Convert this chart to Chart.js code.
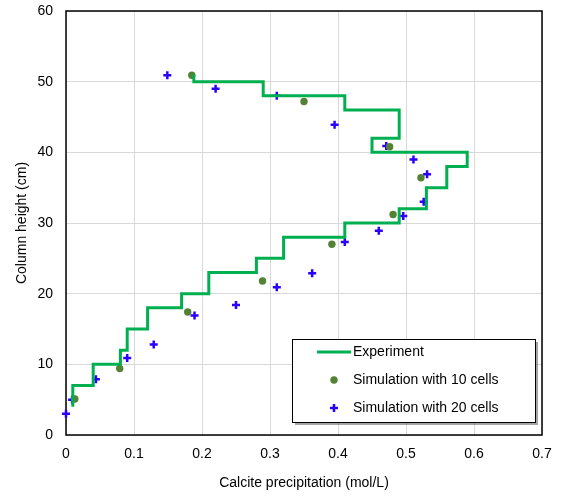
<!DOCTYPE html>
<html>
<head>
<meta charset="utf-8">
<script src="https://cdn.jsdelivr.net/npm/chart.js@4"></script>
<style>
  html, body { margin: 0; padding: 0; background: #fff; }
</style>
</head>
<body>
<canvas id="chart" width="566" height="498"></canvas>
<script>
// experiment (step profile, top to bottom)
const expHeight = [51, 50, 48, 46, 42, 40, 38, 35, 32, 30, 28, 25, 23, 20, 18, 15, 12, 10, 7, 4];
const expValue = [0.188, 0.29, 0.41, 0.49, 0.45, 0.59, 0.56, 0.53, 0.49, 0.41, 0.32, 0.28, 0.21, 0.17, 0.12, 0.09, 0.08, 0.04, 0.01, 0.01];

// simulation with 10 cells
const sim10Height = [50.9, 47.2, 40.8, 36.4, 31.2, 27.0, 21.8, 17.4, 9.4, 5.1];
const sim10Value = [0.185, 0.35, 0.476, 0.522, 0.481, 0.391, 0.289, 0.179, 0.079, 0.013];

// simulation with 20 cells
const sim20Height = [50.9, 49.0, 48.0, 43.9, 40.9, 39.0, 36.9, 33.0, 31.0, 28.9, 27.3, 22.9, 20.9, 18.4, 16.9, 12.8, 10.9, 7.9, 5.0, 3.0];
const sim20Value = [0.149, 0.22, 0.31, 0.395, 0.471, 0.511, 0.531, 0.526, 0.496, 0.46, 0.41, 0.362, 0.31, 0.25, 0.189, 0.129, 0.09, 0.044, 0.009, 0.0];

const seriesNames = ["Experiment", "Simulation with 10 cells", "Simulation with 20 cells"];
const xTicks = [0, 0.1, 0.2, 0.3, 0.4, 0.5, 0.6, 0.7];
const yTicks = [0, 10, 20, 30, 40, 50, 60];

const FONT = "'Liberation Sans', Arial, sans-serif";
const GREEN = "#00B050";
const DOT = "#548235";
const BLUE = "#2B00FF";

function toPoints(xs, ys) {
  return xs.map((v, i) => ({ x: v, y: ys[i] }));
}

// black frame round the plot area
const plotFrame = {
  id: "plotFrame",
  beforeDatasetsDraw(chart) {
    const { ctx, chartArea: a } = chart;
    ctx.save();
    ctx.strokeStyle = "#000";
    ctx.lineWidth = 1.5;
    ctx.strokeRect(a.left, a.top, a.right - a.left, a.bottom - a.top);
    ctx.restore();
  },
};

// legend box inside the plot, lower right
const legendBox = {
  id: "legendBox",
  afterDraw(chart) {
    const ctx = chart.ctx;
    const x = 292, y = 339, w = 243, h = 83;
    ctx.save();
    ctx.fillStyle = "rgba(0,0,0,0.35)";
    ctx.fillRect(x + 3, y + 3, w, h);
    ctx.fillStyle = "#fff";
    ctx.fillRect(x, y, w, h);
    ctx.strokeStyle = "#000";
    ctx.lineWidth = 1;
    ctx.strokeRect(x + 0.5, y + 0.5, w, h);

    const ds = chart.data.datasets;
    const rows = [352, 380, 408];
    const mx = 334;
    ctx.font = "14px " + FONT;
    ctx.textBaseline = "middle";
    ctx.fillStyle = "#000";
    rows.forEach((ry, i) => ctx.fillText(ds[i].label, 353, ry));

    ctx.strokeStyle = ds[0].borderColor;
    ctx.lineWidth = ds[0].borderWidth;
    ctx.beginPath();
    ctx.moveTo(317, rows[0]);
    ctx.lineTo(351, rows[0]);
    ctx.stroke();

    ctx.fillStyle = ds[1].backgroundColor;
    ctx.beginPath();
    ctx.arc(mx, rows[1], 3.7, 0, Math.PI * 2);
    ctx.fill();

    ctx.strokeStyle = ds[2].borderColor;
    ctx.lineWidth = ds[2].borderWidth;
    ctx.beginPath();
    ctx.moveTo(mx - 4, rows[2]);
    ctx.lineTo(mx + 4, rows[2]);
    ctx.moveTo(mx, rows[2] - 4);
    ctx.lineTo(mx, rows[2] + 4);
    ctx.stroke();
    ctx.restore();
  },
};

new Chart(document.getElementById("chart"), {
  type: "scatter",
  data: {
    datasets: [
      {
        label: seriesNames[0],
        data: toPoints(expValue, expHeight),
        showLine: true,
        stepped: "after",
        borderColor: GREEN,
        backgroundColor: GREEN,
        borderWidth: 3,
        pointRadius: 0,
        clip: false,
      },
      {
        label: seriesNames[1],
        data: toPoints(sim10Value, sim10Height),
        showLine: false,
        pointStyle: "circle",
        pointRadius: 3.7,
        backgroundColor: DOT,
        borderColor: DOT,
        borderWidth: 0,
        clip: false,
      },
      {
        label: seriesNames[2],
        data: toPoints(sim20Value, sim20Height),
        showLine: false,
        pointStyle: "cross",
        pointRadius: 4,
        backgroundColor: BLUE,
        borderColor: BLUE,
        borderWidth: 2.5,
        clip: false,
      },
    ],
  },
  options: {
    responsive: false,
    animation: false,
    layout: { padding: { left: 0, top: 11, right: 24, bottom: 0 } },
    plugins: {
      legend: { display: false },
      tooltip: { enabled: false },
    },
    scales: {
      x: {
        type: "linear",
        min: 0,
        max: 0.7,
        afterBuildTicks: (s) => { s.ticks = xTicks.map((v) => ({ value: v })); },
        afterFit: (s) => { s.height = 63; s.paddingLeft = 0; s.paddingRight = 0; },
        grid: { color: "#d9d9d9", lineWidth: 1, drawTicks: false },
        border: { display: false },
        ticks: {
          padding: 11,
          color: "#000",
          font: { family: FONT, size: 14 },
          callback: (v) => String(Math.round(v * 10) / 10),
        },
        title: {
          display: true,
          text: "Calcite precipitation (mol/L)",
          color: "#000",
          font: { family: FONT, size: 14 },
          padding: { top: 0, bottom: 6 },
        },
      },
      y: {
        type: "linear",
        min: 0,
        max: 60,
        afterBuildTicks: (s) => { s.ticks = yTicks.map((v) => ({ value: v })); },
        afterFit: (s) => { s.width = 66; s.paddingTop = 0; s.paddingBottom = 0; },
        grid: { color: "#d9d9d9", lineWidth: 1, drawTicks: false },
        border: { display: false },
        ticks: {
          padding: 13,
          color: "#000",
          font: { family: FONT, size: 14 },
        },
        title: {
          display: true,
          text: "Column height (cm)",
          color: "#000",
          font: { family: FONT, size: 14 },
          padding: { top: 14, bottom: 0 },
        },
      },
    },
  },
  plugins: [plotFrame, legendBox],
});
</script>
</body>
</html>
